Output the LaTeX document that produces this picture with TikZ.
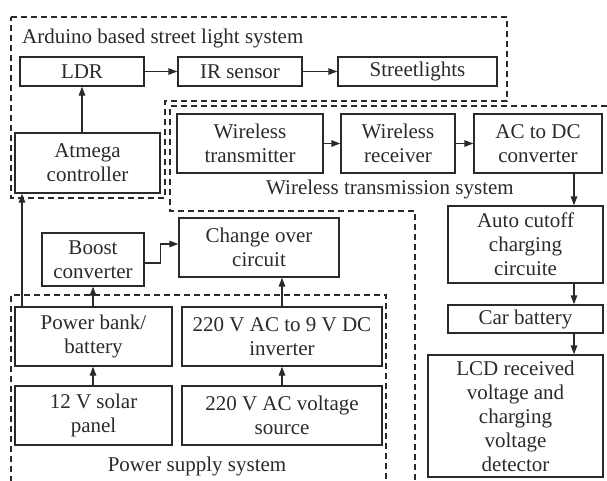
\documentclass[tikz,border=0pt]{standalone}
\usepackage{fontspec}
\setmainfont{Liberation Serif}
\usetikzlibrary{arrows.meta,calc}
\definecolor{ink}{HTML}{2A2A2A}
\begin{document}
\begin{tikzpicture}[x=1pt,y=-1pt,
  box/.style={draw=ink,line width=1.3pt,inner sep=0pt,align=center,text=ink,
    font=\fontsize{21}{24}\selectfont},
  lbl/.style={inner sep=0pt,text=ink,font=\fontsize{21}{24}\selectfont},
  arr/.style={draw=ink,line width=1.3pt,-{Triangle[length=9pt,width=6.5pt]}},
  region/.style={draw=ink,line width=1.2pt,dash pattern=on 6pt off 4pt}]
\useasboundingbox (0,0) rectangle (607,480);
% dashed regions
\draw[region] (11,17) -- (507,17) -- (507,101) -- (165,101) -- (165,198) -- (11,198) -- cycle;
\draw[region] (607,106) -- (170,106) -- (170,211) -- (415,211) -- (415,482);
\draw[region] (11,482) -- (11,295) -- (386,295) -- (386,482);
% labels
\node[lbl,anchor=west] (tA) at (22,38) {Arduino based street light system};
\node[lbl] (tW) at (390,189) {Wireless transmission system};
\node[lbl] (tP) at (197,466) {Power supply system};
% Arduino
\node[box,minimum width=124pt,minimum height=29pt] (ldr) at (82,71.5) {LDR};
\node[box,minimum width=124pt,minimum height=29pt] (ir) at (240,71.5) {IR sensor};
\node[box,minimum width=159pt,minimum height=29pt] (street) at (417.5,71.5) {Streetlights};
\node[box,minimum width=145pt,minimum height=60pt] (atmega) at (87.5,163) {Atmega\\controller};
% Wireless
\node[box,minimum width=146pt,minimum height=59pt] (wtx) at (250,143.5) {Wireless\\transmitter};
\node[box,minimum width=114pt,minimum height=59pt] (wrx) at (398,143.5) {Wireless\\receiver};
\node[box,minimum width=128pt,minimum height=59pt] (acdc) at (538,143.5) {AC to DC\\converter};
\node[box,minimum width=155pt,minimum height=77pt] (auto) at (525.5,244.5) {Auto cutoff\\charging\\circuite};
\node[box,minimum width=155pt,minimum height=28pt] (car) at (525.5,319) {Car battery};
\node[box,minimum width=175pt,minimum height=122pt] (lcd) at (515.5,416) {LCD received\\voltage and\\charging\\voltage\\detector};
% Power
\node[box,minimum width=102pt,minimum height=53pt] (boost) at (93,259.5) {Boost\\converter};
\node[box,minimum width=160pt,minimum height=59pt] (change) at (259,247.5) {Change over\\circuit};
\node[box,minimum width=157pt,minimum height=59pt] (pbank) at (93.5,336.5) {Power bank/\\battery};
\node[box,minimum width=200pt,minimum height=59pt] (inv) at (282,336.5) {220 V AC to 9 V DC\\inverter};
\node[box,minimum width=157pt,minimum height=59pt] (solar) at (93.5,415.5) {12 V solar\\panel};
\node[box,minimum width=200pt,minimum height=59pt] (src) at (282,415.5) {220 V AC voltage\\source};
% helper columns
\coordinate (cR) at (574,0);
\coordinate (cL) at (22,0);
\coordinate (cB) at (93,0);
% connectors
\draw[arr] (ldr) -- (ir);
\draw[arr] (ir) -- (street);
\draw[arr] (atmega.north -| ldr.south) -- (ldr.south);
\draw[arr] (pbank.north -| cL) -- (atmega.south -| cL);
\draw[arr] (wtx) -- (wrx);
\draw[arr] (wrx) -- (acdc);
\draw[arr] (acdc.south -| cR) -- (auto.north -| cR);
\draw[arr] (auto.south -| cR) -- (car.north -| cR);
\draw[arr] (car.south -| cR) -- (lcd.north -| cR);
\draw[arr] (solar.north -| cB) -- (pbank.south -| cB);
\draw[arr] (pbank.north -| cB) -- (boost.south -| cB);
\draw[arr] (src.north) -- (inv.south);
\draw[arr] (inv.north) -- (change.south -| inv.north);
\draw[arr] ([yshift=-3.5pt]boost.east) -- ++(16,0) |- ([yshift=3.5pt]change.west);
\end{tikzpicture}
\end{document}
